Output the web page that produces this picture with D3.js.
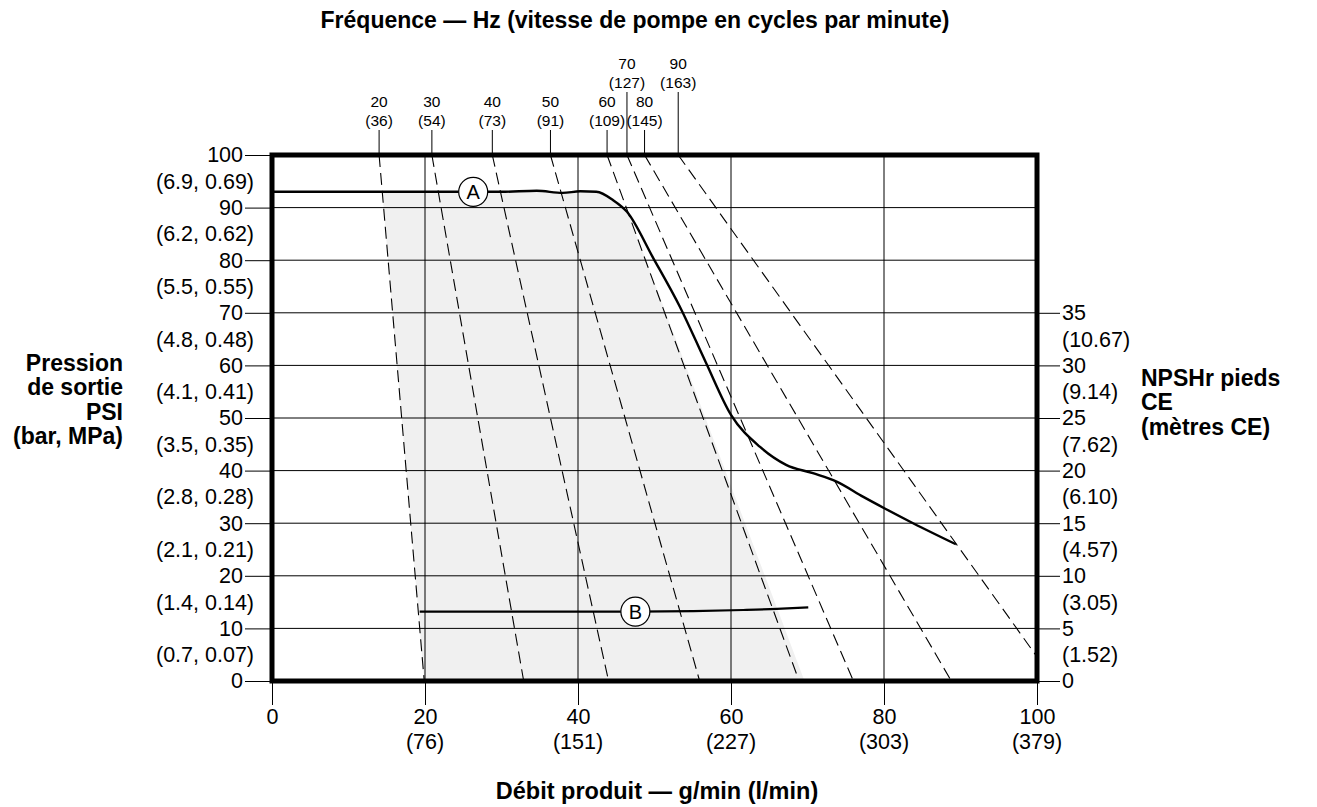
<!DOCTYPE html>
<html>
<head>
<meta charset="utf-8">
<script src="https://cdn.jsdelivr.net/npm/d3@7"></script>
<style>
  html, body { margin: 0; padding: 0; background: #fff; }
  svg { display: block; font-family: "Liberation Sans", Arial, sans-serif; }
</style>
</head>
<body>
<svg id="chart" width="1317" height="807"></svg>
<script>
// ---------- data ----------
const psiTicks = [0, 10, 20, 30, 40, 50, 60, 70, 80, 90, 100];
const barLabelPos = [5, 15, 25, 35, 45, 55, 65, 75, 85, 95];
const barLabels = ["(0.7, 0.07)", "(1.4, 0.14)", "(2.1, 0.21)", "(2.8, 0.28)", "(3.5, 0.35)",
                   "(4.1, 0.41)", "(4.8, 0.48)", "(5.5, 0.55)", "(6.2, 0.62)", "(6.9, 0.69)"];
const npshTicks = [0, 5, 10, 15, 20, 25, 30, 35];
const npshMetricPos = [2.5, 7.5, 12.5, 17.5, 22.5, 27.5, 32.5];
const npshMetric = ["(1.52)", "(3.05)", "(4.57)", "(6.10)", "(7.62)", "(9.14)", "(10.67)"];
const flowTicks = [0, 20, 40, 60, 80, 100];
const flowMetric = ["", "(76)", "(151)", "(227)", "(303)", "(379)"];
const freqHz = [20, 30, 40, 50, 60, 70, 80, 90];
const freqCpm = ["(36)", "(54)", "(73)", "(91)", "(109)", "(127)", "(145)", "(163)"];
const freqRaised = [false, false, false, false, false, true, false, true];
// each frequency line: flow at 100 psi (top) and end point [flow, psi]
const freqTopFlow = [14.0, 20.9, 28.8, 36.4, 43.8, 46.4, 48.7, 53.1];
const freqEnd = [[19.9, 0], [32.9, 0], [44.0, 0], [55.9, 0], [68.9, 0], [76.0, 0], [88.8, 0], [100, 4.6]];
// curve A: outlet pressure (psi) vs flow (gpm)
const curveA = [[0, 93.0], [20, 93.0], [30, 93.0], [34.6, 93.2], [38.0, 92.8], [40.3, 93.1], [42.4, 93.0],
  [44.6, 91.4], [46.4, 89.2], [49.8, 80.5], [53.3, 71.2], [56.7, 60.6], [60.0, 50.6], [63.8, 44.5],
  [67.2, 41.1], [70.7, 39.5], [73.8, 37.9], [77.3, 35.0], [80.1, 32.8], [83.8, 30.0], [89.4, 26.0]];
// curve B: NPSHr (plotted on psi scale)
const curveB = [[19.3, 13.2], [30, 13.2], [47.5, 13.2], [55.1, 13.3], [61.6, 13.5], [66.0, 13.7], [70.1, 14.0]];
const labelA = [26.3, 93.0];
const labelB = [47.5, 13.2];
// shaded operating band: left edge = 20 Hz line, right edge below
const shadeRight = [[46.3, 90], [69.6, 0]];
const leftTitle = ["Pression", "de sortie", "PSI", "(bar, MPa)"];
const rightTitle = ["NPSHr pieds", "CE", "(mètres CE)"];
const topTitle = "Fréquence — Hz (vitesse de pompe en cycles par minute)";
const bottomTitle = "Débit produit — g/min (l/min)";

// ---------- layout ----------
const svg = d3.select("#chart");
const x = d3.scaleLinear().domain([0, 100]).range([272, 1037]);
const y = d3.scaleLinear().domain([0, 100]).range([681, 155]);
const yN = d3.scaleLinear().domain([0, 50]).range([681, 155]);
const FS = 21.5;
const FF = "Liberation Sans, Arial, sans-serif";

// shaded area (clipped under curve A)
const curveGen = d3.line().x(d => x(d[0])).y(d => y(d[1])).curve(d3.curveMonotoneX);
const areaGen = d3.area().x(d => x(d[0])).y0(y(0)).y1(d => y(d[1])).curve(d3.curveMonotoneX);
svg.append("clipPath").attr("id", "underA").append("path").attr("d", areaGen(curveA));
function lineAt(p0, p1, psi) { const t = (psi - p0[1]) / (p1[1] - p0[1]); return p0[0] + t * (p1[0] - p0[0]); }
const l20a = [freqTopFlow[0], 100], l20b = freqEnd[0];
const band = [[lineAt(l20a, l20b, 100), 100], [l20b[0], 0], [shadeRight[1][0], 0],
  [lineAt(shadeRight[0], shadeRight[1], 100), 100]];
svg.append("path")
  .attr("d", d3.line().x(d => x(d[0])).y(d => y(d[1]))(band) + "Z")
  .attr("fill", "#f0f0f0").attr("clip-path", "url(#underA)");

// grid lines
const gGrid = svg.append("g").attr("stroke", "#000").attr("stroke-width", 1);
psiTicks.forEach(v => {
  gGrid.append("line").attr("x1", x(0)).attr("x2", x(100)).attr("y1", y(v)).attr("y2", y(v));
});
[20, 40, 60, 80].forEach(v => {
  gGrid.append("line").attr("x1", x(v)).attr("x2", x(v)).attr("y1", y(100)).attr("y2", y(0));
});

// frequency dashed lines
freqHz.forEach((f, i) => {
  svg.append("line")
    .attr("x1", x(freqTopFlow[i])).attr("y1", y(100))
    .attr("x2", x(freqEnd[i][0])).attr("y2", y(freqEnd[i][1]))
    .attr("stroke", "#000").attr("stroke-width", 1.1)
    .attr("stroke-dasharray", "12,6");
});

// curves
svg.append("path").attr("d", curveGen(curveA)).attr("fill", "none").attr("stroke", "#000").attr("stroke-width", 2.4);
svg.append("path").attr("d", curveGen(curveB)).attr("fill", "none").attr("stroke", "#000").attr("stroke-width", 2.2);

// curve labels
[[labelA, "A"], [labelB, "B"]].forEach(([p, t]) => {
  const g = svg.append("g").attr("transform", `translate(${x(p[0])},${y(p[1])})`);
  g.append("circle").attr("r", 14.5).attr("fill", "#fff").attr("stroke", "#000").attr("stroke-width", 1.2);
  g.append("text").attr("text-anchor", "middle").attr("dy", "0.36em").attr("font-size", 20).text(t);
});

// frame
svg.append("rect").attr("x", x(0)).attr("y", y(100)).attr("width", x(100) - x(0)).attr("height", y(0) - y(100))
  .attr("fill", "none").attr("stroke", "#000").attr("stroke-width", 5);

// left axis
const leftAxis = svg.append("g").attr("transform", `translate(${x(0)},0)`)
  .call(d3.axisLeft(y).tickValues(psiTicks).tickSize(27).tickPadding(2).tickFormat(d3.format("d")));
leftAxis.select(".domain").remove();
leftAxis.selectAll("text").attr("font-size", FS).attr("font-family", FF).attr("fill", "#000");
leftAxis.selectAll("line").attr("stroke", "#000");
svg.append("g").selectAll("text").data(barLabelPos).join("text")
  .attr("x", x(0) - 18).attr("y", d => y(d)).attr("dy", "0.35em").attr("text-anchor", "end")
  .attr("font-size", FS).text((d, i) => barLabels[i]);

// right axis (NPSHr feet)
const rightAxis = svg.append("g").attr("transform", `translate(${x(100)},0)`)
  .call(d3.axisRight(yN).tickValues(npshTicks).tickSize(23).tickPadding(2).tickFormat(d3.format("d")));
rightAxis.select(".domain").remove();
rightAxis.selectAll("text").attr("font-size", FS).attr("font-family", FF).attr("fill", "#000");
rightAxis.selectAll("line").attr("stroke", "#000");
svg.append("g").selectAll("text").data(npshMetricPos).join("text")
  .attr("x", x(100) + 25).attr("y", d => yN(d)).attr("dy", "0.35em")
  .attr("font-size", FS).text((d, i) => npshMetric[i]);

// bottom axis
const bottomAxis = svg.append("g").attr("transform", `translate(0,${y(0)})`)
  .call(d3.axisBottom(x).tickValues(flowTicks).tickSize(24).tickPadding(4).tickFormat(d3.format("d")));
bottomAxis.select(".domain").remove();
bottomAxis.selectAll("text").attr("font-size", FS).attr("font-family", FF).attr("fill", "#000");
bottomAxis.selectAll("line").attr("stroke", "#000");
svg.append("g").selectAll("text").data(flowTicks).join("text")
  .attr("x", d => x(d)).attr("y", y(0) + 68).attr("text-anchor", "middle")
  .attr("font-size", FS).text((d, i) => flowMetric[i]);

// top frequency labels
const gTop = svg.append("g");
freqHz.forEach((f, i) => {
  const xp = x(freqTopFlow[i]);
  const raised = freqRaised[i];
  const tickTop = raised ? 92 : 130;
  gTop.append("line").attr("x1", xp).attr("x2", xp).attr("y1", tickTop).attr("y2", y(100))
    .attr("stroke", "#000").attr("stroke-width", 1);
  const base = raised ? 69 : 107;
  gTop.append("text").attr("x", xp).attr("y", base).attr("text-anchor", "middle").attr("font-size", 15.5).text(f);
  gTop.append("text").attr("x", xp).attr("y", base + 19).attr("text-anchor", "middle").attr("font-size", 15.5).text(freqCpm[i]);
});

// titles
svg.append("text").attr("x", 635).attr("y", 28).attr("text-anchor", "middle")
  .attr("font-size", 23).attr("font-weight", "bold").text(topTitle);
svg.append("text").attr("x", 657).attr("y", 799).attr("text-anchor", "middle")
  .attr("font-size", 23.5).attr("font-weight", "bold").text(bottomTitle);

const lt = svg.append("text").attr("x", 123).attr("y", 371).attr("text-anchor", "end")
  .attr("font-size", 23).attr("font-weight", "bold");
lt.selectAll("tspan").data(leftTitle).join("tspan")
  .attr("x", 123).attr("dy", (d, i) => i === 0 ? 0 : 24.3).text(d => d);

const rt = svg.append("text").attr("x", 1141).attr("y", 386)
  .attr("font-size", 23).attr("font-weight", "bold");
rt.selectAll("tspan").data(rightTitle).join("tspan")
  .attr("x", 1141).attr("dy", (d, i) => i === 0 ? 0 : 24.3).text(d => d);
</script>
</body>
</html>
